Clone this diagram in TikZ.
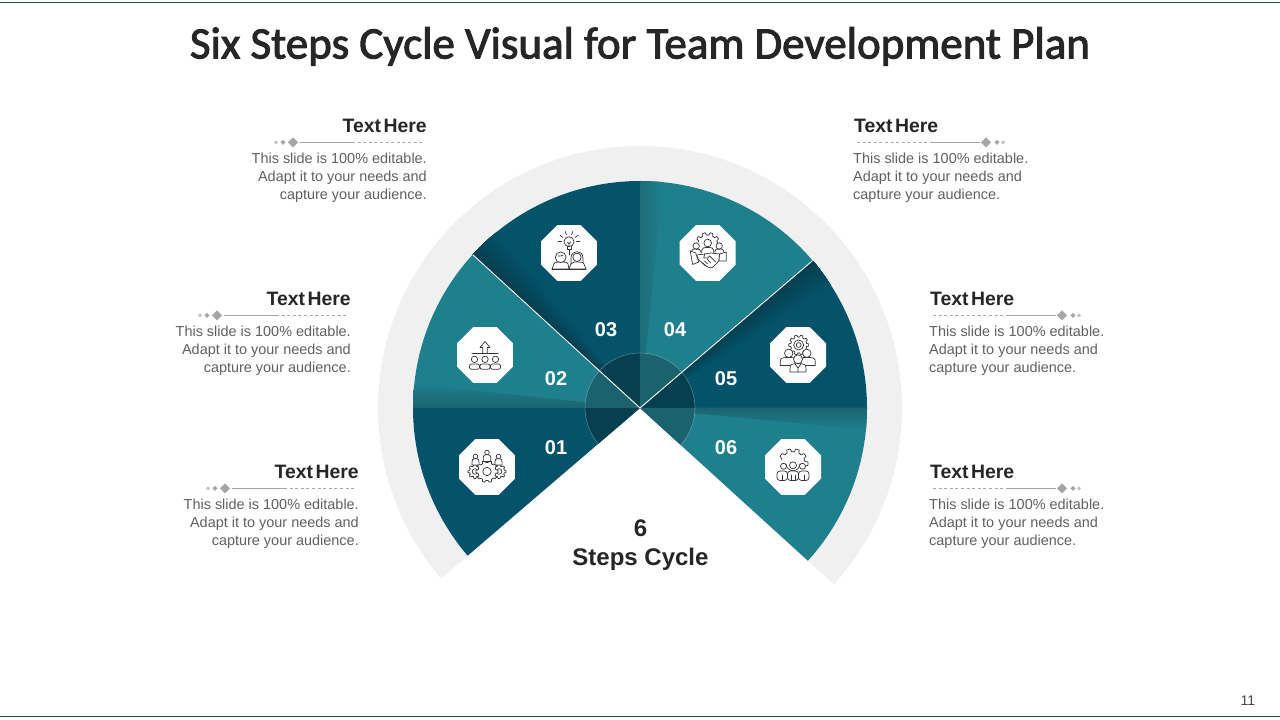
\documentclass[tikz,border=0pt]{standalone}
\usepackage{fontspec}
\setmainfont{Liberation Sans}
\newfontfamily\titlefont[FakeBold=2.2]{Carlito}
\usetikzlibrary{shapes.geometric}
\definecolor{tealc}{HTML}{1F808D}
\definecolor{darkc}{HTML}{04536A}
\definecolor{tealdeep}{HTML}{1A636E}
\definecolor{darkdeep}{HTML}{053F50}
\definecolor{bandc}{HTML}{F0F0F1}
\definecolor{inkc}{HTML}{262626}
\definecolor{bodyc}{HTML}{606060}
\definecolor{rulec}{HTML}{A6A6A6}
\definecolor{framec}{HTML}{1F4E6B}
\definecolor{iconc}{HTML}{333333}
\tikzset{
  headtext/.style={font=\fontsize{19.4}{22}\selectfont\bfseries,text=inkc,inner sep=0pt},
  bodytext/.style={font=\fontsize{14.45}{17.8}\selectfont,text=bodyc,inner sep=0pt},
  numtext/.style={font=\fontsize{20}{24}\selectfont\bfseries,text=white,inner sep=0pt},
  centertext/.style={font=\fontsize{24}{29}\selectfont\bfseries,text=inkc,inner sep=0pt,align=center},
  octa/.style={regular polygon,regular polygon sides=8,fill=white,draw=none,minimum size=60.6pt,inner sep=0pt},
  icon/.style={draw=iconc,line width=.7pt,line join=round,line cap=round},
  iconw/.style={icon,fill=white},
}
\newcommand\texthere{Text\hspace{2.5pt}Here}
\newcommand\slidetext{This slide is 100\% editable.\\Adapt it to your needs and\\capture your audience.}
% sector: style, start, radius, end
\newcommand\sector[4]{\fill[#1] (0,0) -- (#2:#3) arc[start angle=#2,end angle=#4,radius=#3] -- cycle;}
% angular fade on dark sectors: far angle, separator angle
\newcommand\foldfade[2]{%
  \foreach \i in {1,...,24}{%
    \pgfmathsetmacro\fa{#1+(\i-1)*(#2-#1)/24}%
    \pgfmathsetmacro\pc{\i*100/24}%
    \fill[darkdeep!\pc!darkc] (0,0) -- (\fa:227) arc[start angle=\fa,end angle=#2,radius=227] -- cycle;
  }}
% gear teeth: x y inner outer n from to
\newcommand\gearteeth[7]{%
  \begin{scope}[shift={(#1,#2)}]
  \foreach \k in {#6,...,#7}{%
    \draw[icon] ({(\k-.5)*360/#5}:#3) arc[start angle={(\k-.5)*360/#5},delta angle={.18*360/#5},radius=#3]
      -- ({(\k-.18)*360/#5}:#4) arc[start angle={(\k-.18)*360/#5},delta angle={.36*360/#5},radius=#4]
      -- ({(\k+.32)*360/#5}:#3) arc[start angle={(\k+.32)*360/#5},delta angle={.18*360/#5},radius=#3];
  }
  \end{scope}}
% bust: x, head y, head r, half width, bottom y
\newcommand\bust[5]{%
  \draw[iconw] (#1,#2) circle (#3);
  \draw[iconw] ({#1-#4},#5) -- ({#1-#4},{#5-2.5}) .. controls ({#1-#4},{#2+#3+.5}) and ({#1-#4+1},{#2+#3+.5}) .. ({#1-#3*.7},{#2+#3})
     -- ({#1+#3*.7},{#2+#3}) .. controls ({#1+#4-1},{#2+#3+.5}) and ({#1+#4},{#2+#3+.5}) .. ({#1+#4},{#5-2.5}) -- ({#1+#4},#5) -- cycle;}
% text blocks
\newcommand\leftblock[3]{%
  \node[headtext,anchor=east] (#1h) at (#2,720-#3) {\texthere};
  \node[bodytext,anchor=east,align=right] (#1b) at (#2,720-#3-52) {\slidetext};
  \begin{scope}[shift={(#2,720-#3-16.3)}]
    \draw[rulec,line width=.7pt] (-127,0) -- (-75,0);
    \draw[rulec,line width=.6pt,dash pattern=on 3pt off 2.6pt] (-75,0) -- (-3,0);
    \fill[rulec] (-139,0) -- (-134,5) -- (-129,0) -- (-134,-5) -- cycle;
    \fill[rulec] (-146.5,0) -- (-144,2.5) -- (-141.5,0) -- (-144,-2.5) -- cycle;
    \fill[rulec!70] (-153,0) -- (-151,2) -- (-149,0) -- (-151,-2) -- cycle;
  \end{scope}}
\newcommand\rightblock[3]{%
  \node[headtext,anchor=west] (#1h) at (#2,720-#3) {\texthere};
  \node[bodytext,anchor=west,align=left] (#1b) at (#2-1,720-#3-52) {\slidetext};
  \begin{scope}[shift={(#2,720-#3-16.3)}]
    \draw[rulec,line width=.7pt] (79,0) -- (126,0);
    \draw[rulec,line width=.6pt,dash pattern=on 3pt off 2.6pt] (3,0) -- (79,0);
    \fill[rulec] (127,0) -- (132,5) -- (137,0) -- (132,-5) -- cycle;
    \fill[rulec] (140.5,0) -- (143,2.5) -- (145.5,0) -- (143,-2.5) -- cycle;
    \fill[rulec!70] (147,0) -- (149,2) -- (151,0) -- (149,-2) -- cycle;
  \end{scope}}
\begin{document}
\begin{tikzpicture}[x=1pt,y=1pt]
\useasboundingbox (0,0) rectangle (1280,720);
\fill[white] (0,0) rectangle (1280,720);
\draw[framec,line width=1pt] (0,720-2.5) -- (1280,720-2.5);
\draw[framec,line width=1.6pt] (0,720-716.5) -- (1280,720-716.5);
\node[font=\titlefont\fontsize{45}{50}\selectfont,text=inkc,inner sep=0pt] (title) at (640,720-46.5) {Six Steps Cycle Visual for Team Development Plan};
\node[font=\fontsize{14}{17}\selectfont,text=inkc!85,inner sep=0pt] (page) at (1248,720-701) {11};

\begin{scope}[shift={(640,312)}]
  % outer band
  \fill[bandc] (220.6:227) arc[start angle=220.6,end angle=-42.3,radius=227] -- (-42.3:262) arc[start angle=-42.3,end angle=220.6,radius=262] -- cycle;
  % sectors
  \sector{darkc}{180}{227}{220.6}
  \sector{tealc}{137.5}{227}{180}
  \sector{darkc}{90}{227}{137.5}
  \sector{tealc}{40.5}{227}{90}
  \sector{darkc}{0}{227}{40.5}
  \sector{tealc}{-42.3}{227}{0}
  % folded shadows
  \begin{scope}
    \clip (0,0) -- (174:227) arc[start angle=174,end angle=180,radius=227] -- cycle;
    \shade[top color=tealc,bottom color=tealdeep] (-230,-1) rectangle (0,26);
  \end{scope}
  \foldfade{129}{137.5}
  \begin{scope}
    \clip (0,0) -- (84:227) arc[start angle=84,end angle=90,radius=227] -- cycle;
    \shade[left color=tealc!35!tealdeep,right color=tealc] (0,0) rectangle (24,230);
  \end{scope}
  \foldfade{32.5}{40.5}
  \begin{scope}
    \clip (0,0) -- (-5.5:227) arc[start angle=-5.5,end angle=0,radius=227] -- cycle;
    \shade[top color=tealdeep,bottom color=tealc] (0,1) rectangle (230,-23);
  \end{scope}
  % hub
  \sector{darkdeep}{180}{55}{220.6}
  \sector{tealdeep}{137.5}{55}{180}
  \sector{darkdeep}{90}{55}{137.5}
  \sector{tealdeep}{40.5}{55}{90}
  \sector{darkdeep}{0}{55}{40.5}
  \sector{tealdeep}{-42.3}{55}{0}
  \draw[white,opacity=.3,line width=.6pt] (220.6:55) arc[start angle=220.6,end angle=-42.3,radius=55];
  % separators
  \draw[white,line width=.9pt] (0,0) -- (137.5:227);
  \draw[white,line width=.9pt] (0,0) -- (40.5:227);
\end{scope}

% octagons
\node[octa] (o1) at (487,720-467) {};
\node[octa] (o2) at (485,720-355) {};
\node[octa] (o3) at (569,720-253) {};
\node[octa] (o4) at (707.7,720-253) {};
\node[octa] (o5) at (798,720-355) {};
\node[octa] (o6) at (793,720-467) {};

% icon 01
\begin{scope}[shift={(o1.center)},yscale=-1]
  \gearteeth{-12}{4.5}{5.5}{7}{8}{1}{8}
  \gearteeth{12}{4.5}{5.5}{7}{8}{1}{8}
  \draw[icon] (-12,4.5) circle (2.8);
  \draw[icon] (12,4.5) circle (2.8);
  \fill[white] (0,4.5) circle (10);
  \gearteeth{0}{4.5}{9}{11}{10}{1}{10}
  \draw[icon] (0,4.5) circle (4.2);
  \bust{-11.5}{-10.5}{2.3}{3.6}{-2}
  \bust{11.5}{-10.5}{2.3}{3.6}{-2}
  \bust{0}{-14.5}{2.3}{3.8}{-5.5}
\end{scope}
% icon 02
\begin{scope}[shift={(o2.center)},yscale=-1]
  \draw[icon] (-2.3,-1.7) -- (-2.3,-7.5) -- (-5,-7.5) -- (0,-13.5) -- (5,-7.5) -- (2.3,-7.5) -- (2.3,-1.7);
  \draw[icon] (-13,-1.7) -- (13,-1.7);
  \foreach \h in {-10.5,0,10.5}{
    \draw[icon] (\h,4.3) circle (3.2);
    \draw[icon,rounded corners=2pt] (\h-5,9) rectangle (\h+5,14.3);
  }
\end{scope}
% icon 03
\begin{scope}[shift={(o3.center)},yscale=-1]
  \draw[icon] (0,-11.3) circle (5);
  \draw[icon] (-2,-6.5) -- (-2,-3.5) -- (2,-3.5) -- (2,-6.5);
  \draw[icon] (-1.5,-11) -- (0,-9) -- (1.5,-11) (0,-9) -- (0,-6.5);
  \foreach \a in {0,35,70,110,145,180}{\draw[icon] (0,-11.3)++(-\a:7.5) -- ++(-\a:3.4);}
  \draw[icon] (0,-3.5) -- (0,2);
  \draw[iconw] (-17,16) -- (-15,11) .. controls (-14,9.5) .. (-11,9) -- (-5,9) .. controls (-2,9.5) .. (-1,11) -- (0,16) -- cycle;
  \draw[iconw] (-8.3,4.3) circle (5.4);
  \draw[icon] (-11,3) .. controls (-8,4) and (-7,2) .. (-6,2);
  \draw[iconw] (2,12) -- (2,5) .. controls (2,-3.5) and (14,-3.5) .. (14,5) -- (14,12);
  \draw[iconw] (8,4.3) circle (4.2);
  \draw[iconw] (0,16) -- (2,11) .. controls (3,9.5) .. (5,9) -- (11,9) .. controls (14,9.5) .. (15,11) -- (17,16) -- cycle;
  \draw[icon] (-17,16) -- (17,16);
\end{scope}
% icon 04
\begin{scope}[shift={(o4.center)},yscale=-1]
  \gearteeth{0}{-8}{10}{12.5}{10}{6}{10}
  \draw[icon] (0,-10) circle (3.8);
  \draw[icon] (-6,0) -- (-6,-2.5) .. controls (-6,-5) and (-3,-5.5) .. (-2,-5.5) -- (2,-5.5) .. controls (3,-5.5) and (6,-5) .. (6,-2.5) -- (6,0);
  \draw[iconw] (-11.5,-7) circle (3.2);
  \draw[iconw] (11.5,-7) circle (3.2);
  \draw[icon] (-16,-1) -- (-16,-2) .. controls (-15,-4) .. (-11,-3.8) .. controls (-8,-4) .. (-7,-1);
  \draw[icon] (16,-1) -- (16,-2) .. controls (15,-4) .. (11,-3.8) .. controls (8,-4) .. (7,-1);
  \draw[iconw] (-17.5,-2) -- (-12,0) -- (-9,9) -- (-15,11.5) -- cycle;
  \draw[iconw] (18.5,-1) -- (18.5,8) -- (11,8) -- (12,1) -- cycle;
  \draw[iconw] (-11,2) -- (-3,1) -- (3,0) -- (12,1) -- (11,8) -- (6.5,13) .. controls (4,16) and (1,15) .. (-1,13.5) -- (-9,7) -- cycle;
  \draw[icon] (-3,1) -- (-4,5) -- (0,5) -- (2,3) -- (8,9);
  \draw[icon] (-3,8) -- (0,11) (-.5,6) -- (3,10) (-5,10) -- (-2,13);
\end{scope}
% icon 05
\begin{scope}[shift={(o5.center)},yscale=-1]
  \gearteeth{0.7}{-10}{8}{10}{10}{1}{10}
  \draw[icon] (0.7,-10) circle (5);
  \draw[icon] (0.7,-10) circle (2.4);
  \bust{-9.3}{-1.7}{4.2}{8.5}{10.5}
  \bust{8.8}{-1.7}{4.2}{8.5}{10.5}
  \bust{0}{4.3}{4.5}{8}{17}
  \draw[icon] (-3,9) -- (0,13) -- (3,9) (0,13) -- (0,17);
\end{scope}
% icon 06
\begin{scope}[shift={(o6.center)},yscale=-1]
  \gearteeth{0}{-3.3}{12}{15}{10}{6}{10}
  \draw[icon] (-7,-3.3) arc[start angle=180,end angle=0,radius=7];
  \draw[iconw] (-9.5,-.7) circle (3);
  \draw[iconw] (9.5,-.7) circle (3);
  \draw[iconw] (0,-1.7) circle (3.5);
  \draw[iconw,rounded corners=3pt] (-16,13.5) -- (-16,4) -- (-5.5,4) -- (-5.5,13.5) -- cycle;
  \draw[iconw,rounded corners=3pt] (16,13.5) -- (16,4) -- (5.5,4) -- (5.5,13.5) -- cycle;
  \draw[iconw,rounded corners=3pt] (-5.5,13.5) -- (-5.5,4) -- (5.5,4) -- (5.5,13.5) -- cycle;
  \draw[icon] (-11,8) -- (-11,13.5) (11,8) -- (11,13.5) (-2,8) -- (-2,13.5) (2,8) -- (2,13.5);
\end{scope}

% numbers
\node[numtext] (n1) at (556,720-448) {01};
\node[numtext] (n2) at (556,720-379) {02};
\node[numtext] (n3) at (606,720-330) {03};
\node[numtext] (n4) at (675,720-330) {04};
\node[numtext] (n5) at (726,720-379) {05};
\node[numtext] (n6) at (726,720-448) {06};

% centre label
\node[centertext] (c6) at (640.5,720-528) {6};
\node[centertext] (csteps) at (640.5,720-559) {Steps Cycle};

% callouts
\leftblock{l1}{427}{126}
\leftblock{l2}{351}{299}
\leftblock{l3}{359}{472}
\rightblock{r1}{854}{126}
\rightblock{r2}{930}{299}
\rightblock{r3}{930}{472}
\end{tikzpicture}
\end{document}
